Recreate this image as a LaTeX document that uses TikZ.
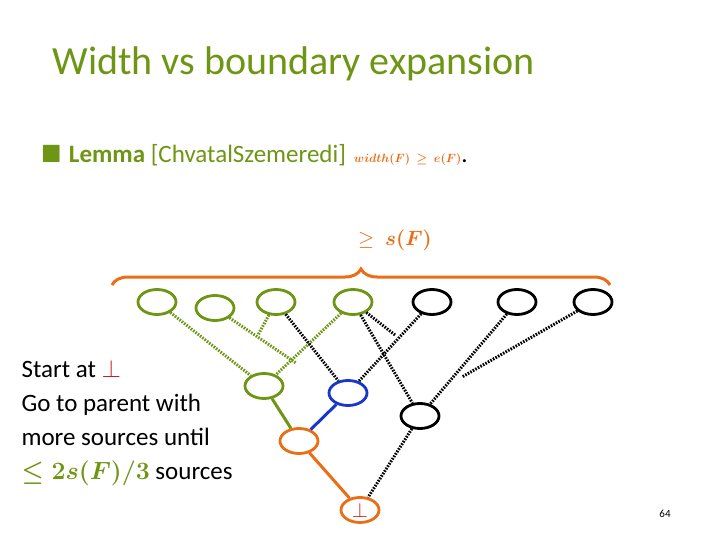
\documentclass[tikz,border=0pt]{standalone}
\usepackage{fontspec}
\usepackage{amsmath,amssymb}
\setmainfont{Carlito}
\usetikzlibrary{decorations.pathreplacing,shapes.geometric}
\definecolor{gr}{RGB}{110,150,20}
\definecolor{og}{RGB}{235,110,20}
\definecolor{bl}{RGB}{25,55,200}
\definecolor{rd}{RGB}{200,30,30}
\begin{document}
\begin{tikzpicture}[x=1pt,y=-1pt,
  nd/.style={draw,ellipse,minimum width=38pt,minimum height=25pt,inner sep=0pt,line width=2.8pt},
  dot/.style={line width=3pt,dash pattern=on 1.6pt off 1.3pt},
  sol/.style={line width=3pt}]
\useasboundingbox (0,0) rectangle (720,540);
\fill[white] (0,0) rectangle (720,540);
\node[anchor=west,text=gr,font=\fontsize{40}{42}\selectfont] (title) at (49,64) {Width vs boundary expansion};
\node[anchor=west,font=\fontsize{25}{27}\selectfont] (lem) at (38,155) {\textcolor{gr}{$\blacksquare$}\hspace{8pt}\textcolor{gr}{\textbf{Lemma} [ChvatalSzemeredi]}\hspace{8pt}\textcolor{og}{\large$\boldsymbol{width(F)\ \geq\ e(F)}$}.};
\node[text=og,font=\fontsize{22}{24}\selectfont] (sf) at (395,240) {$\geq\ \boldsymbol{s(F)}$};
\coordinate (bra) at (112,285); \coordinate (brb) at (610,285);
\draw[og,line width=3pt,decorate,decoration={brace,amplitude=16pt}] (bra) -- (brb);
% nodes
\node[nd,draw=gr] (a1) at (157,302) {};
\node[nd,draw=gr] (a2) at (215,308) {};
\node[nd,draw=gr] (a3) at (276,302) {};
\node[nd,draw=gr] (a4) at (353,302) {};
\node[nd] (b1) at (432,302) {};
\node[nd] (b2) at (517,302) {};
\node[nd] (b3) at (593,302) {};
\node[nd,draw=gr] (g) at (264,386) {};
\node[nd,draw=bl] (bn) at (348,393) {};
\node[nd,draw=og] (o) at (299,441) {};
\node[nd] (k) at (420,416) {};
\node[nd,draw=og,text=rd,font=\fontsize{20}{20}\selectfont] (bot) at (360,510) {$\bot$};
% edges
\coordinate (m4) at (296,363);
\coordinate (m2) at (258,335);
\coordinate (m1) at (395,335);
\coordinate (m5) at (462,377);
\draw[dot,gr] (a1) -- (g);
\draw[dot,gr] (a4) -- (g);
\draw[dot,gr] (a2) -- (m4);
\draw[dot,gr] (a3) -- (m2);
\draw[dot] (a3) -- (bn);
\draw[dot] (b1) -- (bn);
\draw[dot] (a4) -- (m1);
\draw[dot] (a4) -- (k);
\draw[dot] (b2) -- (k);
\draw[dot] (b3) -- (m5);
\draw[dot] (k) -- (bot);
\draw[sol,gr] (g) -- (o);
\draw[sol,bl] (bn) -- (o);
\draw[sol,og] (o) -- (bot);
\node[anchor=north west,align=left,font=\fontsize{25}{34}\selectfont] (txt) at (18,357) {Start at \textcolor{rd}{$\bot$}\\Go to parent with\\more sources until\\\textcolor{gr}{$\boldsymbol{\leq 2s(F)/3}$} sources};
\node[font=\rmfamily\fontsize{11}{12}\selectfont] (pg) at (665,514) {64};
\end{tikzpicture}
\end{document}
